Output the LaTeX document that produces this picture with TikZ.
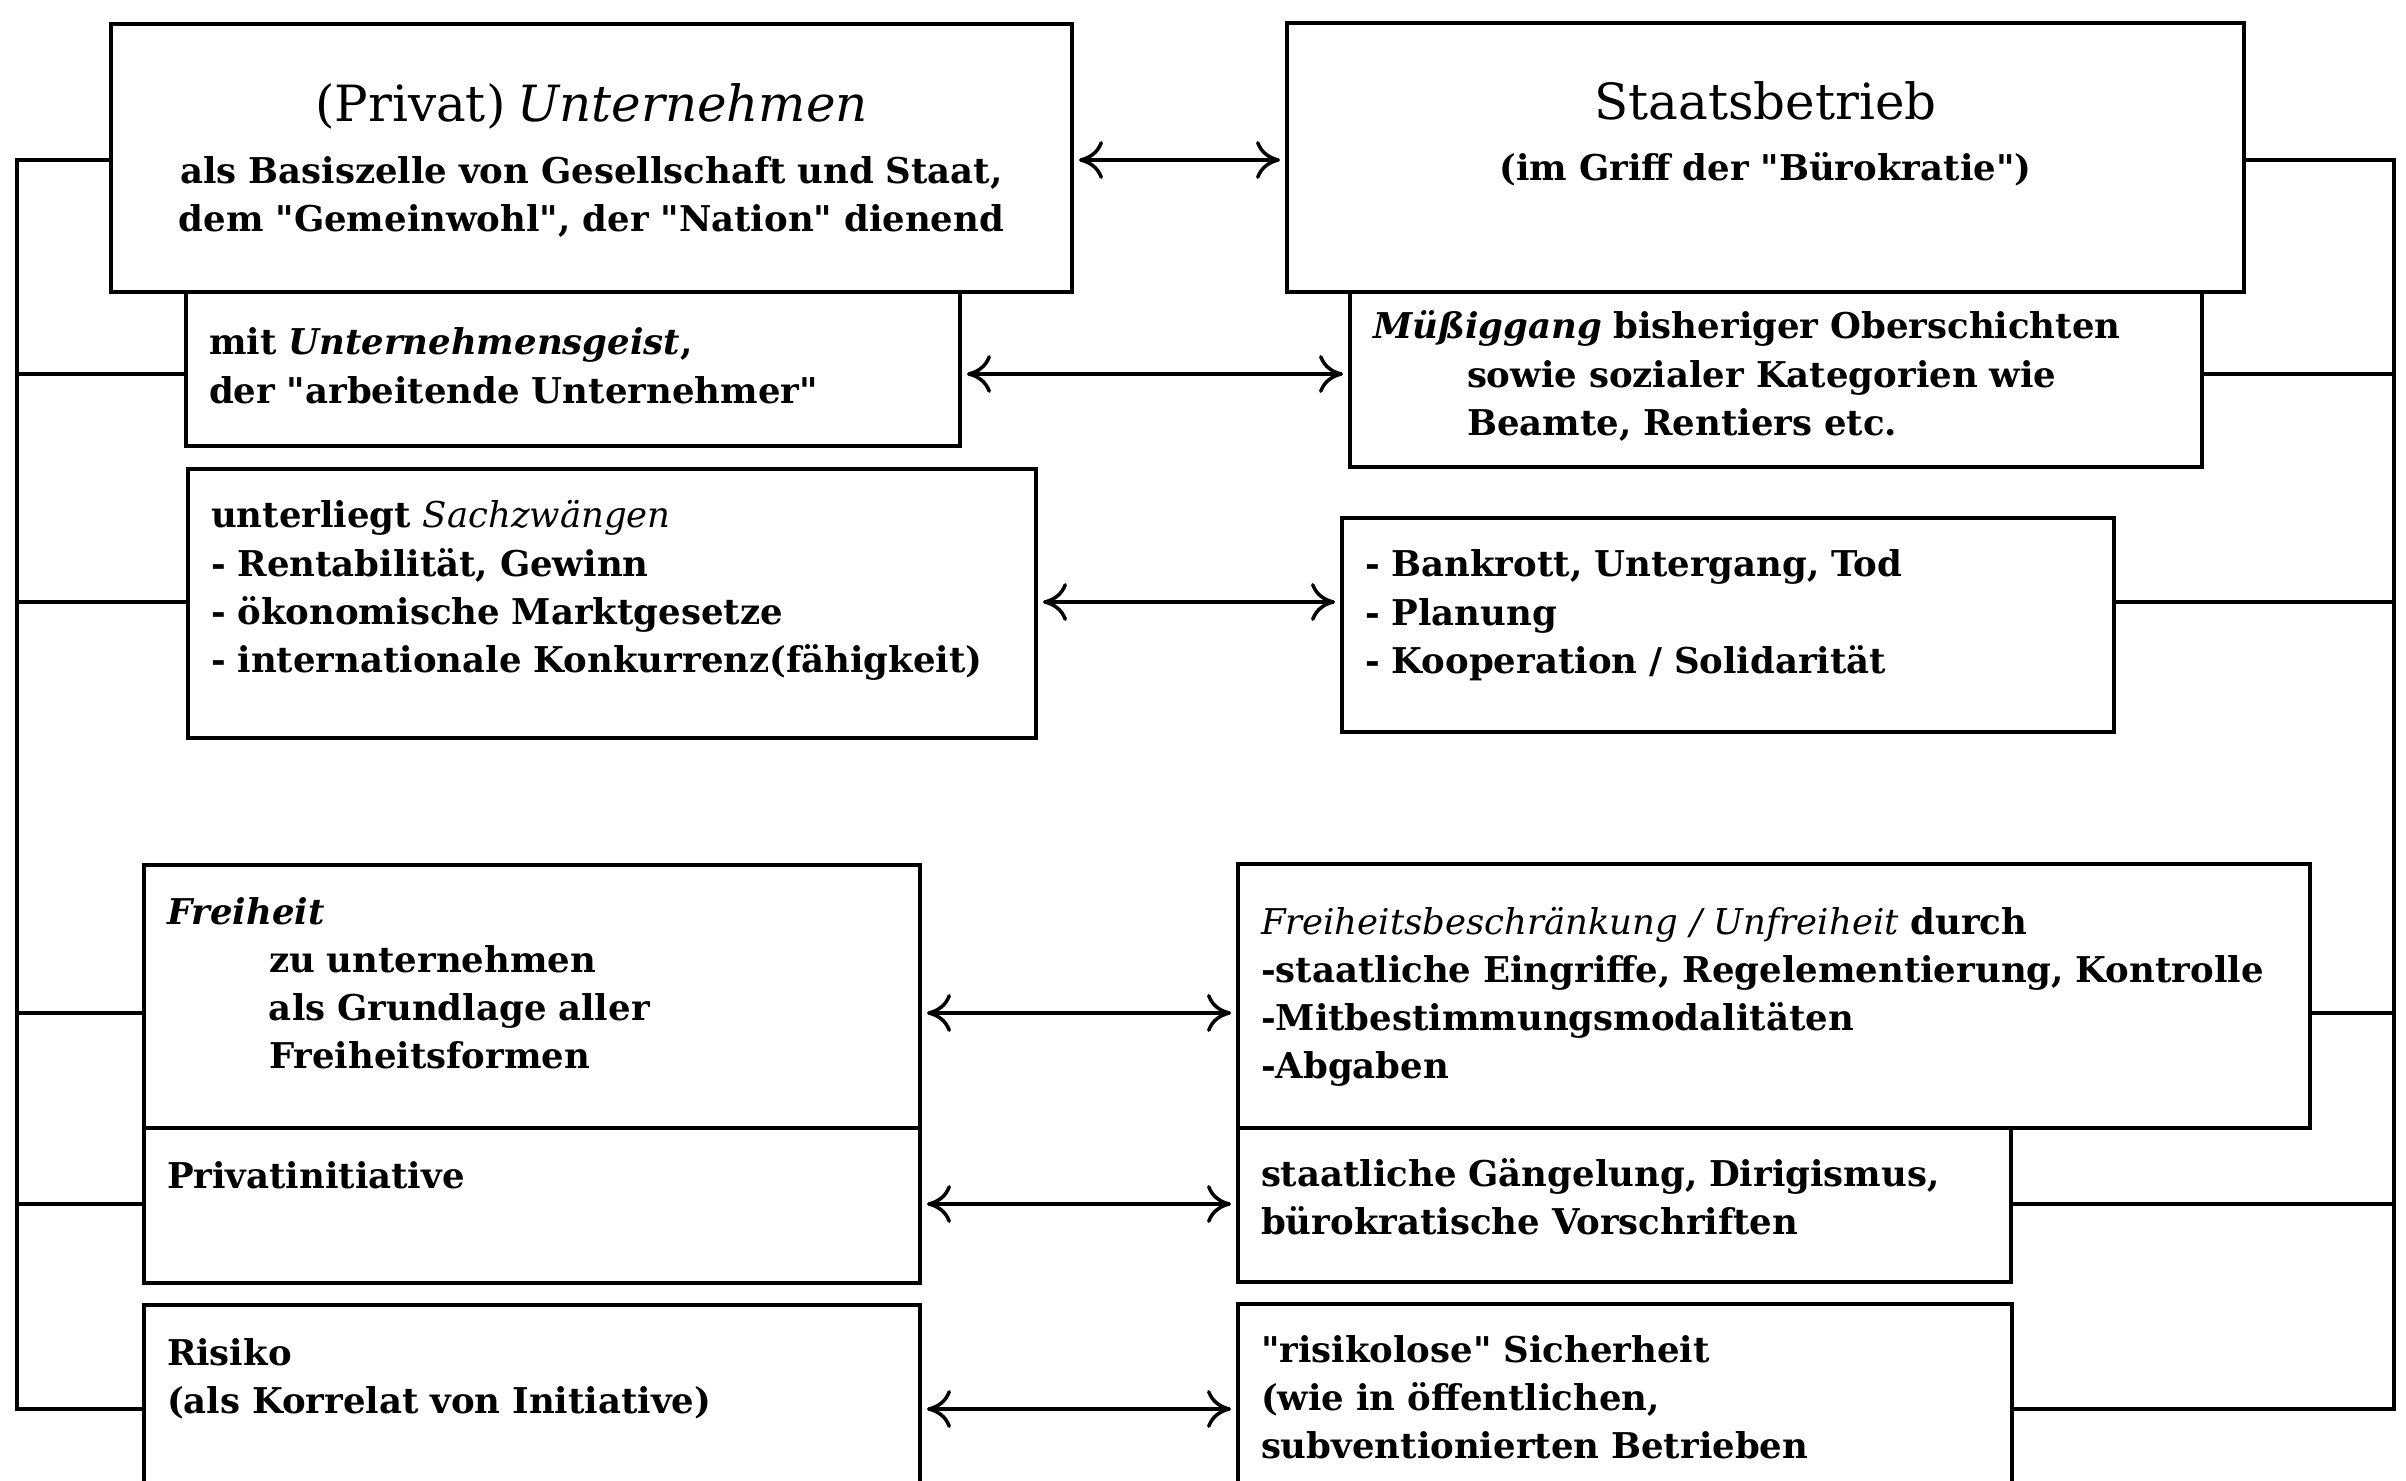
\documentclass[tikz,border=0pt]{standalone}
\usepackage{fontspec}
\setmainfont{DejaVu Serif}[Ligatures=TeXOff]
\usetikzlibrary{arrows.meta}

\newcommand{\headline}[1]{{\fontsize{14.2}{17}\selectfont\mdseries #1}}

\begin{document}
\begin{tikzpicture}[thick,
  box node/.style={draw, rectangle, line width=1.2pt, anchor=north west,
    inner xsep=0.23cm, inner ysep=0pt, outer sep=0pt, align=left,
    font=\fontsize{10.1}{13.7}\selectfont\bfseries},
  wire/.style={line width=1pt},
  duo/.style={line width=1pt, {To[length=2.4mm,width=3.8mm]}-{To[length=2.4mm,width=3.8mm]},
    shorten <=0.7mm, shorten >=0.7mm}]

\useasboundingbox (0,0) rectangle (24.06,-14.81);
\clip (0,0) rectangle (24.06,-14.81);

% rows of the arrows and of the side lines
\coordinate (r1) at (0,-1.60);
\coordinate (r2) at (0,-3.74);
\coordinate (r3) at (0,-6.02);
\coordinate (r4) at (0,-10.13);
\coordinate (r5) at (0,-12.04);
\coordinate (r6) at (0,-14.09);
\coordinate (lbus) at (0.17,0);
\coordinate (rbus) at (23.94,0);

% left column
\node[box node, align=center, text width=9.15cm, text height=0.98cm, text depth=1.70cm] (A) at (1.11,-0.24)
  {\headline{(Privat) \textit{Unternehmen}}\\[3.8pt]
   als Basiszelle von Gesellschaft und Staat,\\
   dem "Gemeinwohl", der "Nation" dienend};
\node[box node, text width=7.28cm, text height=0.63cm, text depth=0.91cm] (C) at (1.86,-2.92)
  {mit \textit{Unternehmensgeist},\\
   der "arbeitende Unternehmer"};
\node[box node, text width=8.02cm, text height=0.59cm, text depth=2.10cm] (E) at (1.88,-4.69)
  {unterliegt \textit{\mdseries Sachzwängen}\\
   - Rentabilität, Gewinn\\
   - ökonomische Marktgesetze\\
   - internationale Konkurrenz(fähigkeit)};
\node[box node, text width=7.30cm, text height=0.59cm, text depth=2.04cm] (G) at (1.44,-8.65)
  {\textit{Freiheit}\\
   \hspace*{1.02cm}zu unternehmen\\
   \hspace*{1.02cm}als Grundlage aller\\
   \hspace*{1.02cm}Freiheitsformen};
\node[box node, text width=7.30cm, text height=0.60cm, text depth=0.95cm] (I) at (1.44,-11.28)
  {Privatinitiative};
\node[box node, text width=7.30cm, text height=0.60cm, text depth=2.00cm] (K) at (1.44,-13.05)
  {Risiko\\
   (als Korrelat von Initiative)};

% right column
\node[box node, align=center, text width=9.11cm, text height=0.97cm, text depth=1.72cm] (B) at (12.87,-0.23)
  {\headline{Staatsbetrieb}\\[3.6pt]
   (im Griff der "Bürokratie")};
\node[box node, text width=8.06cm, text height=0.47cm, text depth=1.28cm] (D) at (13.50,-2.92)
  {\textit{Müßiggang} bisheriger Oberschichten\\
   \hspace*{0.94cm}sowie sozialer Kategorien wie\\
   \hspace*{0.94cm}Beamte, Rentiers etc.};
\node[box node, text width=7.26cm, text height=0.59cm, text depth=1.55cm] (F) at (13.42,-5.18)
  {- Bankrott, Untergang, Tod\\
   - Planung\\
   - Kooperation / Solidarität};
\node[box node, text width=10.26cm, text height=0.70cm, text depth=1.94cm] (H) at (12.38,-8.64)
  {\textit{\mdseries Freiheitsbeschränkung / Unfreiheit} durch\\
   -staatliche Eingriffe, Regelementierung, Kontrolle\\
   -Mitbestimmungsmodalitäten\\
   -Abgaben};
\node[box node, text width=7.27cm, text height=0.58cm, text depth=0.96cm] (J) at (12.38,-11.28)
  {staatliche Gängelung, Dirigismus,\\
   bürokratische Vorschriften};
\node[box node, text width=7.28cm, text height=0.58cm, text depth=2.00cm] (L) at (12.38,-13.04)
  {"risikolose" Sicherheit\\
   (wie in öffentlichen,\\
   subventionierten Betrieben};

% double arrows
\path[duo]
(A.east |- r1) edge (B.west |- r1)
(C.east |- r2) edge (D.west |- r2)
(E.east |- r3) edge (F.west |- r3)
(G.east |- r4) edge (H.west |- r4)
(I.east |- r5) edge (J.west |- r5)
(K.east |- r6) edge (L.west |- r6)
;

% side lines
\draw[wire] (A.west |- r1) -- (lbus |- r1) -- (lbus |- r6) -- (K.west |- r6);
\draw[wire] (C.west |- r2) -- (lbus |- r2);
\draw[wire] (E.west |- r3) -- (lbus |- r3);
\draw[wire] (G.west |- r4) -- (lbus |- r4);
\draw[wire] (I.west |- r5) -- (lbus |- r5);

\draw[wire] (B.east |- r1) -- (rbus |- r1) -- (rbus |- r6) -- (L.east |- r6);
\draw[wire] (D.east |- r2) -- (rbus |- r2);
\draw[wire] (F.east |- r3) -- (rbus |- r3);
\draw[wire] (H.east |- r4) -- (rbus |- r4);
\draw[wire] (J.east |- r5) -- (rbus |- r5);

\end{tikzpicture}
\end{document}
